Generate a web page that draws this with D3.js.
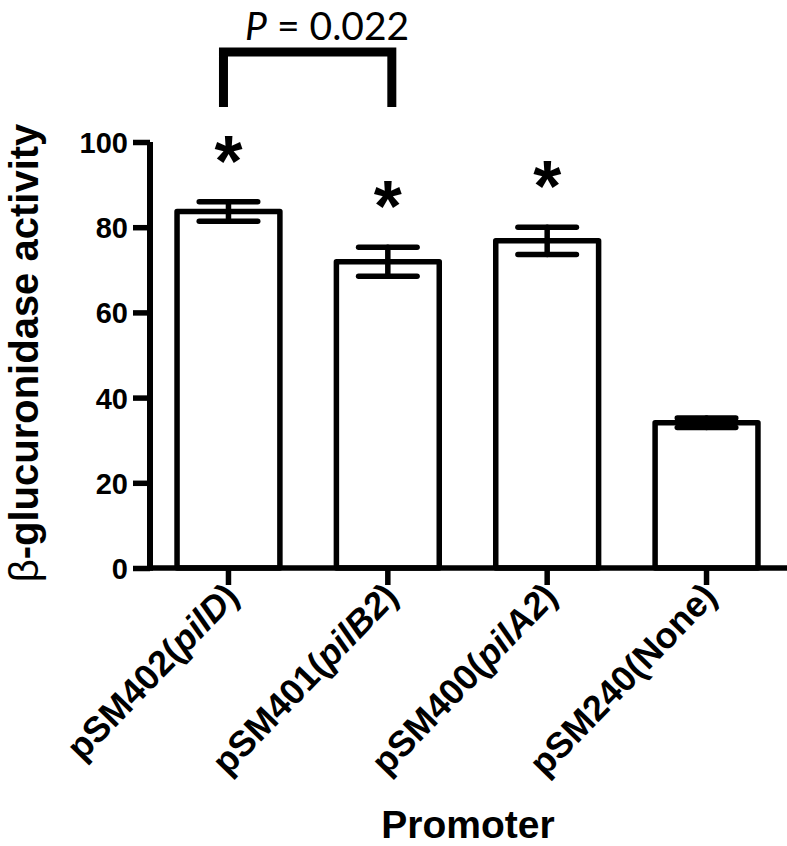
<!DOCTYPE html>
<html>
<head>
<meta charset="utf-8">
<script src="https://cdn.jsdelivr.net/npm/d3@7"></script>
<style>
	body { margin: 0; background: #fff; }
	svg { display: block; }
	text { font-family: "Liberation Sans", Arial, sans-serif; font-weight: bold; fill: #000; }
</style>
</head>
<body>
<script>
(function () {
	"use strict";

	// data
	let plasmids = ['pSM402', 'pSM401', 'pSM400', 'pSM240'];
	let genes = ['pilD', 'pilB2', 'pilA2', 'None'];
	let geneItalic = [true, true, true, false];
	let means = [83.7, 71.9, 76.8, 34.1];
	let errors = [2.3, 3.4, 3.2, 1.1];
	let significant = [true, true, true, false];
	let yTicks = [0, 20, 40, 60, 80, 100];
	let pLabel = '0.022';

	let w = 787;
	let h = 846;
	let sw = 5.5;

	let svg = d3.select('body').append('svg')
		.attr('width', w)
		.attr('height', h);

	let x = d3.scaleBand()
		.domain(plasmids)
		.range([148, 787])
		.paddingInner(0.32)
		.paddingOuter(0.165);

	let y = d3.scaleLinear()
		.domain([0, 100])
		.range([568, 142]);

	let rows = plasmids.map((p, i) => ({
		p: p, gene: genes[i], italic: geneItalic[i],
		mean: means[i], err: errors[i], sig: significant[i]
	}));

	// bars
	svg.selectAll('rect.bar')
		.data(rows)
		.enter()
		.append('rect')
		.attr('class', 'bar')
		.attr('x', d => x(d.p) + sw / 2)
		.attr('width', x.bandwidth() - sw)
		.attr('y', d => y(d.mean))
		.attr('height', d => y(0) - y(d.mean))
		.attr('fill', '#fff')
		.attr('stroke', '#000')
		.attr('stroke-width', sw)
		.attr('stroke-linejoin', 'round');

	// error bars
	let capW = x.bandwidth() * 0.27;
	let eb = svg.selectAll('g.err')
		.data(rows)
		.enter()
		.append('g')
		.attr('class', 'err')
		.attr('stroke', '#000')
		.attr('stroke-width', sw)
		.attr('stroke-linecap', 'round');
	eb.append('line')
		.attr('x1', d => x(d.p) + x.bandwidth() / 2)
		.attr('x2', d => x(d.p) + x.bandwidth() / 2)
		.attr('y1', d => y(d.mean - d.err))
		.attr('y2', d => y(d.mean + d.err));
	[-1, 1].forEach(function (s) {
		eb.append('line')
			.attr('x1', d => x(d.p) + x.bandwidth() / 2 - capW)
			.attr('x2', d => x(d.p) + x.bandwidth() / 2 + capW)
			.attr('y1', d => y(d.mean + s * d.err))
			.attr('y2', d => y(d.mean + s * d.err));
	});

	// asterisks
	svg.selectAll('text.star')
		.data(rows.filter(d => d.sig))
		.enter()
		.append('text')
		.attr('class', 'star')
		.attr('x', d => x(d.p) + x.bandwidth() / 2)
		.attr('y', d => y(d.mean + d.err) - 16)
		.attr('text-anchor', 'middle')
		.style('font-size', '72px')
		.text('*');

	// y axis
	let yAxis = svg.append('g')
		.attr('transform', 'translate(150,0)')
		.call(d3.axisLeft(y).tickValues(yTicks).tickSize(17).tickPadding(5));
	yAxis.select('.domain').remove();
	yAxis.append('line')
		.attr('x1', 0).attr('x2', 0)
		.attr('y1', y(100)).attr('y2', y(0) + sw / 2)
		.attr('stroke', '#000').attr('stroke-width', sw + 0.5);
	yAxis.selectAll('.tick line').attr('stroke-width', sw);
	yAxis.selectAll('.tick text').style('font-size', '29px').attr('dy', '0.36em');

	// x axis
	let xAxis = svg.append('g')
		.attr('transform', 'translate(0,' + y(0) + ')')
		.call(d3.axisBottom(x).tickSize(17).tickFormat(''));
	xAxis.select('.domain').remove();
	xAxis.append('line')
		.attr('x1', 150 - sw / 2).attr('x2', w)
		.attr('stroke', '#000').attr('stroke-width', sw);
	xAxis.selectAll('.tick line').attr('stroke-width', sw);

	let lab = svg.selectAll('text.xlab')
		.data(rows)
		.enter()
		.append('text')
		.attr('class', 'xlab')
		.attr('text-anchor', 'end')
		.attr('transform', d => 'translate(' + (x(d.p) + x.bandwidth() / 2 + 12) + ',' + (y(0) + 30) + ') rotate(-46)')
		.style('font-size', '36px');
	lab.append('tspan').text(d => d.p + '(');
	lab.append('tspan').style('font-style', d => d.italic ? 'italic' : 'normal').text(d => d.gene);
	lab.append('tspan').text(')');

	svg.append('text')
		.attr('x', 468)
		.attr('y', 838)
		.attr('text-anchor', 'middle')
		.style('font-size', '39px')
		.text('Promoter');

	let yt = svg.append('text')
		.attr('transform', 'translate(38,353) rotate(-90)')
		.attr('text-anchor', 'middle')
		.style('font-size', '40px');
	yt.append('tspan').style('font-weight', 'normal').text('β');
	yt.append('tspan').text('-glucuronidase activity');

	// significance bracket between the first two bars
	let bx1 = x(plasmids[0]) + x.bandwidth() / 2 - 5;
	let bx2 = x(plasmids[1]) + x.bandwidth() / 2 + 4;
	svg.append('path')
		.attr('d', d3.line()([[bx1, 107], [bx1, 52], [bx2, 52], [bx2, 107]]))
		.attr('fill', 'none')
		.attr('stroke', '#000')
		.attr('stroke-width', 9);

	let pt = svg.append('text')
		.attr('x', 245)
		.attr('y', 40)
		.style('font-family', 'Lato, "Open Sans", sans-serif')
		.style('font-weight', 'normal')
		.style('font-size', '39px');
	pt.append('tspan').style('font-style', 'italic').text('P');
	pt.append('tspan').text(' = ' + pLabel);
})();
</script>
</body>
</html>
